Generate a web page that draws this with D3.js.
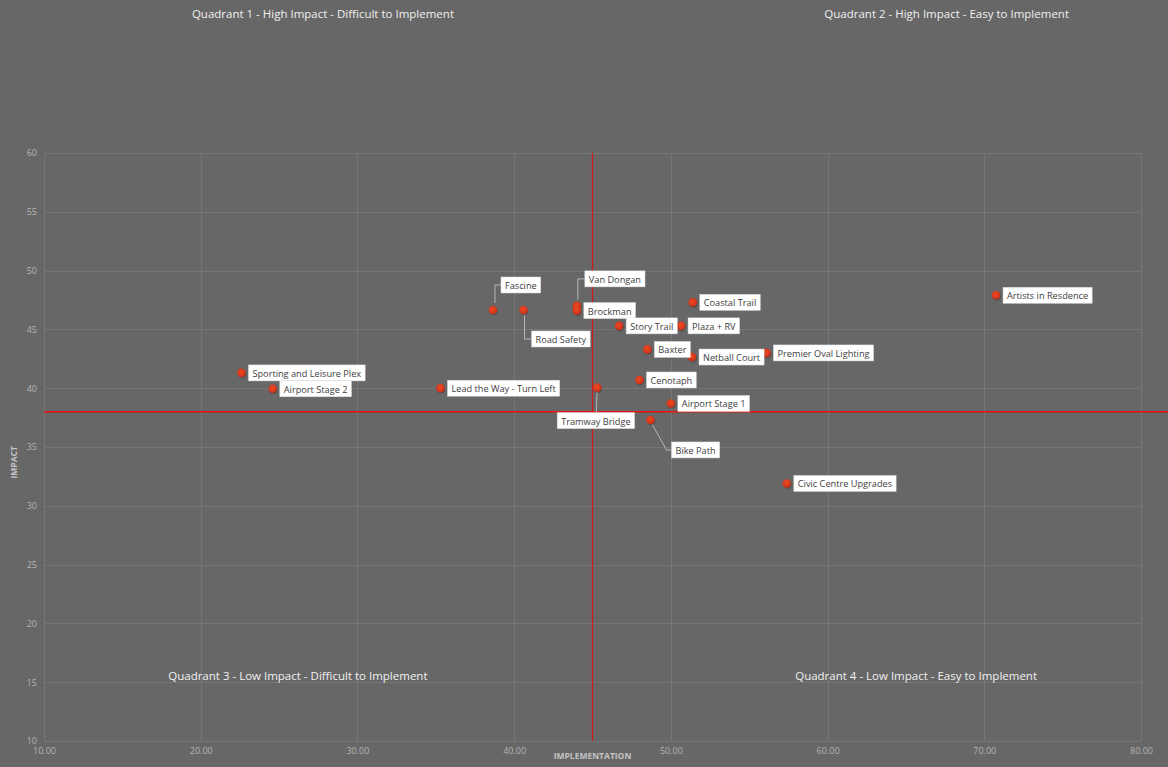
<!DOCTYPE html>
<html>
<head>
<meta charset="utf-8">
<script src="https://cdn.jsdelivr.net/npm/d3@7"></script>
<style>
  html, body { margin: 0; padding: 0; background: #676767; }
  svg { display: block; font-family: "Open Sans", "DejaVu Sans", sans-serif; }
</style>
</head>
<body>
<div id="chart"></div>
<script>
// DATA
const projects = ["Sporting and Leisure Plex", "Airport Stage 2", "Lead the Way - Turn Left", "Fascine",
  "Road Safety", "Van Dongan", "Brockman", "Tramway Bridge", "Story Trail", "Cenotaph", "Baxter",
  "Bike Path", "Airport Stage 1", "Plaza + RV", "Coastal Trail", "Netball Court",
  "Premier Oval Lighting", "Civic Centre Upgrades", "Artists in Resdence"];
const implementation = [22.6, 24.6, 35.3, 38.65, 40.6, 44.0, 44.0, 45.3, 46.7, 48.0, 48.5,
  48.7, 50.0, 50.65, 51.4, 51.35, 56.1, 57.4, 70.75];
const impact = [41.3, 39.95, 40.0, 46.65, 46.65, 47.0, 46.6, 40.05, 45.3, 40.7, 43.3,
  37.3, 38.7, 45.3, 47.3, 42.65, 43.0, 31.9, 47.9];

const xTicks = [10, 20, 30, 40, 50, 60, 70, 80];
const yTicks = [10, 15, 20, 25, 30, 35, 40, 45, 50, 55, 60];
const implThreshold = 45;
const impactThreshold = 38;

const quadrantNames = ["Quadrant 1 - High Impact - Difficult to Implement",
  "Quadrant 2 - High Impact - Easy to Implement",
  "Quadrant 3 - Low Impact - Difficult to Implement",
  "Quadrant 4 - Low Impact - Easy to Implement"];
const quadrantX = [27.8, 67.6, 26.2, 65.65];
const quadrantY = [71.7, 71.7, 15.45, 15.45];

// label callouts (pixel offsets from the point), the rest sit to the right
const callouts = {
  "Fascine":        { dx: 8,  dy: -25, leader: [[2, -7], [2, -25], [8, -25]] },
  "Road Safety":    { dx: 8,  dy: 29,  leader: [[1, 4], [1, 29], [8, 29]] },
  "Van Dongan":     { dx: 8,  dy: -27, leader: [[1, -6], [1, -27], [8, -27]] },
  "Tramway Bridge": { dx: -40, dy: 33, leader: [[0, 3], [-1, 25]] },
  "Bike Path":      { dx: 21, dy: 30,  leader: [[1, 3], [16, 30], [21, 30]] }
};

document.addEventListener('DOMContentLoaded', function(){
  drawChart();
});

function drawChart(){
  const width = 1168, height = 767;
  const margin = { top: 153, right: 27, bottom: 26, left: 44 };

  const svg = d3.select('#chart').append('svg')
                .attr('width', width)
                .attr('height', height);

  svg.append('rect').attr('width', width).attr('height', height).attr('fill', '#676767');

  const x = d3.scaleLinear().domain([10, 80]).range([margin.left, width - margin.right]);
  const y = d3.scaleLinear().domain([10, 60]).range([height - margin.bottom, margin.top]);

  // grid
  const grid = svg.append('g').attr('stroke', '#767676').attr('stroke-width', 1);
  grid.selectAll('.gx').data(xTicks).enter().append('line')
      .attr('x1', d => Math.round(x(d)) + 0.5).attr('x2', d => Math.round(x(d)) + 0.5)
      .attr('y1', y(60)).attr('y2', y(10));
  grid.selectAll('.gy').data(yTicks).enter().append('line')
      .attr('x1', x(10)).attr('x2', x(80))
      .attr('y1', d => Math.round(y(d)) + 0.5).attr('y2', d => Math.round(y(d)) + 0.5);

  // axes (labels only)
  const xAxis = svg.append('g')
      .attr('transform', `translate(0,${y(10)})`)
      .call(d3.axisBottom(x).tickValues(xTicks).tickFormat(d3.format('.2f')).tickSize(0).tickPadding(7));
  const yAxis = svg.append('g')
      .attr('transform', `translate(${x(10)},0)`)
      .call(d3.axisLeft(y).tickValues(yTicks).tickSize(0).tickPadding(7));
  [xAxis, yAxis].forEach(a => {
    a.select('.domain').remove();
    a.selectAll('text').attr('fill', '#b4b4b4').attr('font-size', 9)
     .attr('font-family', '"Open Sans", sans-serif');
  });

  svg.append('text').text('IMPLEMENTATION')
     .attr('x', x(45)).attr('y', 759).attr('text-anchor', 'middle')
     .attr('fill', '#c4c4c4').attr('font-size', 8.5).attr('font-weight', 'bold');
  svg.append('text').text('IMPACT')
     .attr('transform', `translate(17,${y(33.7)}) rotate(-90)`).attr('text-anchor', 'middle')
     .attr('fill', '#c4c4c4').attr('font-size', 8.5).attr('font-weight', 'bold');

  // thresholds
  svg.append('line')
     .attr('x1', x(implThreshold)).attr('x2', x(implThreshold))
     .attr('y1', y(60)).attr('y2', y(10))
     .attr('stroke', '#d01a1a').attr('stroke-width', 1.2);
  svg.append('line')
     .attr('x1', x(10)).attr('x2', width)
     .attr('y1', y(impactThreshold)).attr('y2', y(impactThreshold))
     .attr('stroke', '#ee1111').attr('stroke-width', 1.5);

  // quadrant titles
  svg.selectAll('.quad').data(quadrantNames).enter().append('text')
     .attr('x', (d, i) => x(quadrantX[i])).attr('y', (d, i) => y(quadrantY[i]))
     .attr('text-anchor', 'middle').attr('dominant-baseline', 'middle')
     .attr('fill', '#f0f0f0').attr('font-size', 11.5)
     .text(d => d);

  const points = projects.map((name, i) => ({ name, cx: x(implementation[i]), cy: y(impact[i]) }));

  // leader lines
  const leaders = svg.append('g');
  points.forEach(p => {
    const c = callouts[p.name];
    if (!c) return;
    leaders.append('polyline')
      .attr('points', c.leader.map(q => [p.cx + q[0], p.cy + q[1]].join(',')).join(' '))
      .attr('fill', 'none').attr('stroke', '#b8b8b8').attr('stroke-width', 1);
  });

  // markers
  const defs = svg.append('defs');
  const grad = defs.append('radialGradient').attr('id', 'dot').attr('cx', '45%').attr('cy', '40%').attr('r', '60%');
  grad.append('stop').attr('offset', '0%').attr('stop-color', '#f04a22');
  grad.append('stop').attr('offset', '100%').attr('stop-color', '#c8301a');

  svg.append('g').selectAll('circle').data(points).enter().append('circle')
     .attr('cx', d => d.cx + 0.6).attr('cy', d => d.cy + 1)
     .attr('r', 4.3).attr('fill', '#3a3a3a').attr('opacity', 0.5);
  svg.append('g').selectAll('circle').data(points).enter().append('circle')
     .attr('cx', d => d.cx).attr('cy', d => d.cy)
     .attr('r', 4.3).attr('fill', 'url(#dot)');

  // data labels
  const labels = svg.append('g').selectAll('g').data(points).enter().append('g');
  labels.each(function(p){
    const g = d3.select(this);
    const c = callouts[p.name];
    const t = g.append('text').text(p.name)
      .attr('font-size', 9.2).attr('fill', '#404040')
      .attr('dominant-baseline', 'central');
    const w = t.node().getComputedTextLength();
    const bw = w + 8, bh = 16;
    let bx, by;
    if (c) {
      bx = p.cx + c.dx;
      by = p.cy + c.dy - bh / 2;
    } else {
      bx = p.cx + 7;
      by = p.cy - bh / 2;
    }
    g.insert('rect', 'text')
      .attr('x', bx).attr('y', by).attr('width', bw).attr('height', bh)
      .attr('fill', '#ffffff').attr('stroke', '#d8d8d8').attr('stroke-width', 0.5);
    t.attr('x', bx + 4).attr('y', by + bh / 2 + 0.5);
  });
}
</script>
</body>
</html>
